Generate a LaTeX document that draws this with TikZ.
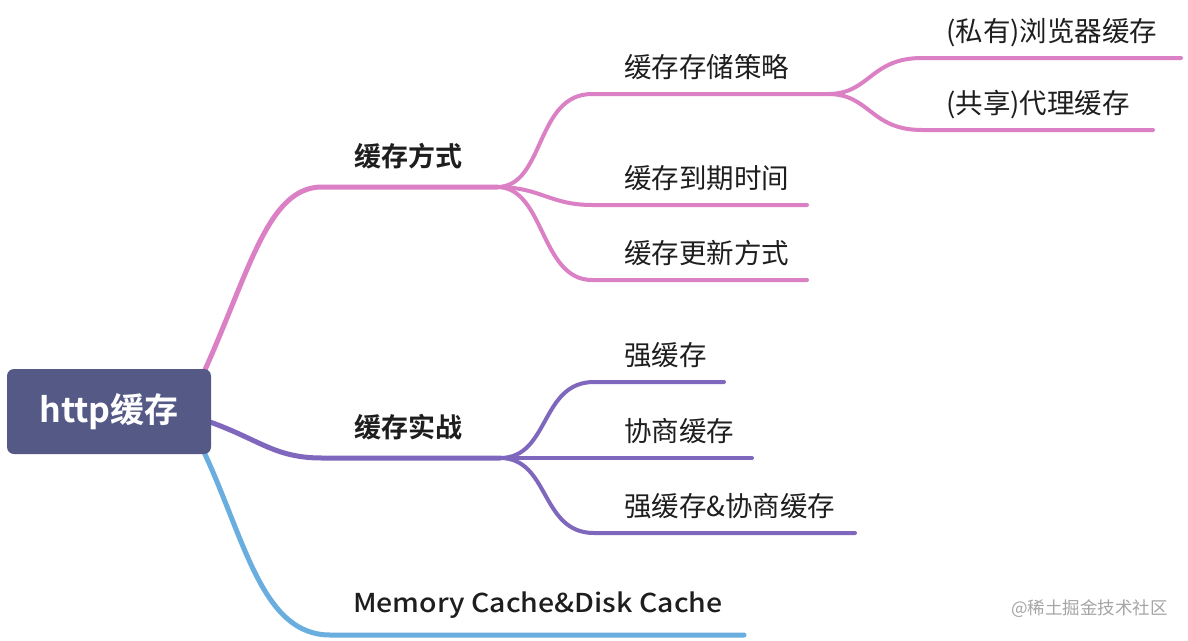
\documentclass[tikz,border=0pt]{standalone}
\usepackage{fontspec}
\setmainfont{Noto Sans CJK SC}
\newfontfamily\cjkbold{Noto Sans CJK SC Bold}
\newfontfamily\cjkwide{Noto Sans CJK SC Medium}[FakeStretch=1.095]
\definecolor{pinkc}{RGB}{219,128,196}
\definecolor{purplec}{RGB}{126,103,189}
\definecolor{bluec}{RGB}{106,174,224}
\definecolor{rootc}{RGB}{84,89,133}
\definecolor{txtc}{RGB}{30,30,30}
\definecolor{wmc}{RGB}{165,165,165}
\tikzset{
  mainline/.style={line width=5pt, line cap=round},
  subline/.style={line width=4pt, line cap=round},
  lvlone/.style={anchor=base west, inner sep=0pt, text=txtc, font=\fontsize{27}{30}\selectfont\cjkbold},
  lvltwo/.style={anchor=base west, inner sep=0pt, text=txtc, font=\fontsize{27.5}{30}\selectfont},
}
\begin{document}
\begin{tikzpicture}[x=1pt,y=-1pt]
\useasboundingbox (0,0) rectangle (1188,640);
\fill[white] (0,0) rectangle (1188,640);

% ---- coordinates of underlines
\coordinate (aS) at (322,187); \coordinate (aE) at (497,187);
\coordinate (a1S) at (592,94); \coordinate (a1E) at (828,94);
\coordinate (a11S) at (922,58); \coordinate (a11E) at (1181,58);
\coordinate (a12S) at (922,130); \coordinate (a12E) at (1153,130);
\coordinate (a2S) at (592,205); \coordinate (a2E) at (807,205);
\coordinate (a3S) at (592,280); \coordinate (a3E) at (807,280);
\coordinate (bS) at (322,458); \coordinate (bE) at (500,458);
\coordinate (b1S) at (594,382); \coordinate (b1E) at (724,382);
\coordinate (b2S) at (594,458); \coordinate (b2E) at (752,458);
\coordinate (b3S) at (594,533); \coordinate (b3E) at (855,533);
\coordinate (cS) at (330,635); \coordinate (cE) at (744,635);
\coordinate (rA) at (204,372);
\coordinate (rB) at (210,422);
\coordinate (rC) at (204,452);

% ---- pink branch
\begin{scope}[pinkc]
\draw[mainline] (rA) .. controls (250,270) and (268,187) .. (aS) -- (aE);
\draw[subline] (aE) .. controls (545,187) and (535,94) .. (a1S) -- (a1E);
\draw[subline] (aE) .. controls (540,187) and (550,205) .. (a2S) -- (a2E);
\draw[subline] (aE) .. controls (545,187) and (540,280) .. (a3S) -- (a3E);
\draw[subline] (a1E) .. controls (870,94) and (870,58) .. (a11S) -- (a11E);
\draw[subline] (a1E) .. controls (870,94) and (870,130) .. (a12S) -- (a12E);
\end{scope}

% ---- purple branch
\begin{scope}[purplec]
\draw[mainline] (rB) .. controls (260,440) and (275,458) .. (bS) -- (bE);
\draw[subline] (bE) .. controls (550,458) and (540,382) .. (b1S) -- (b1E);
\draw[subline] (bE) -- (b2S) -- (b2E);
\draw[subline] (bE) .. controls (550,458) and (540,533) .. (b3S) -- (b3E);
\end{scope}

% ---- blue branch
\draw[mainline, bluec] (rC) .. controls (245,540) and (262,635) .. (cS) -- (cE);

% ---- root
\node[draw=none, fill=rootc, rounded corners=7pt, minimum width=204pt, minimum height=85pt, inner sep=0pt] (root) at (109,411.5) {};
\node[text=white, font=\fontsize{34}{36}\selectfont\cjkbold, inner sep=0pt] (roottxt) at (root.center) {http缓存};

% ---- labels
\node[lvlone] (a) at (354,166) {缓存方式};
\node[lvlone] (b) at (354,437) {缓存实战};
\node[lvlone, font=\fontsize{26}{30}\selectfont\cjkwide] (c) at (353,612) {Memory Cache\&Disk Cache};

\node[lvltwo] (a1) at (624,77) {缓存存储策略};
\node[lvltwo] (a11) at (946,41) {(私有)浏览器缓存};
\node[lvltwo] (a12) at (946,113) {(共享)代理缓存};
\node[lvltwo] (a2) at (624,188) {缓存到期时间};
\node[lvltwo] (a3) at (624,263) {缓存更新方式};
\node[lvltwo] (b1) at (624,365) {强缓存};
\node[lvltwo] (b2) at (624,441) {协商缓存};
\node[lvltwo] (b3) at (624,516) {强缓存\&协商缓存};

% ---- watermark
\node[anchor=base east, inner sep=0pt, text=wmc, font=\fontsize{17.5}{20}\selectfont] (wm) at (1168,614) {@稀土掘金技术社区};
\end{tikzpicture}
\end{document}
